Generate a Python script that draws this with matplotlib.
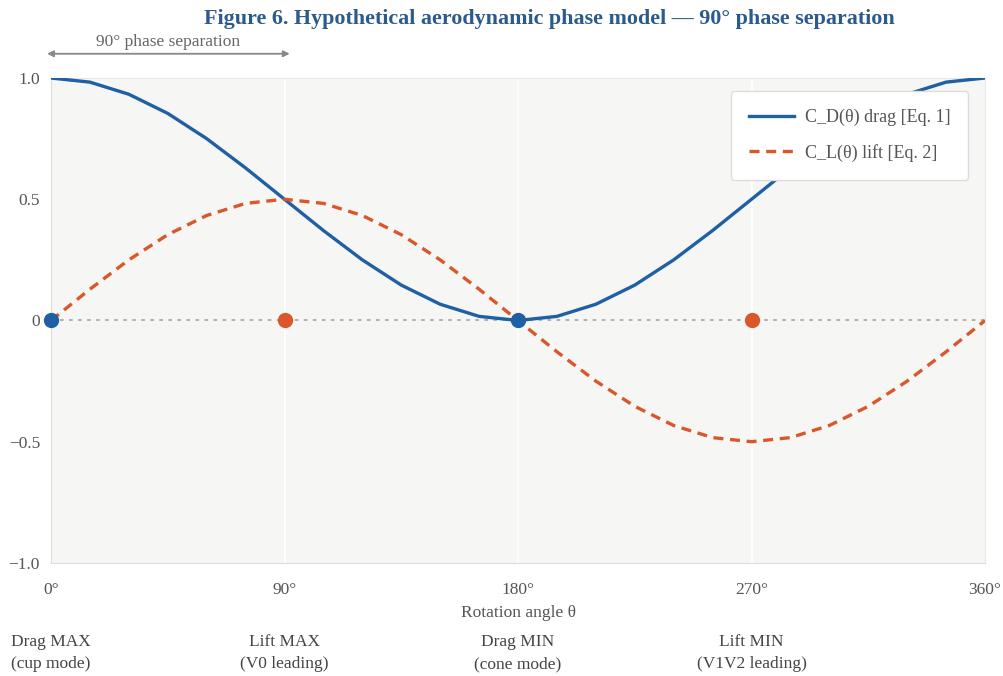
import matplotlib.pyplot as plt
from matplotlib.transforms import blended_transform_factory

plt.rcParams['font.family'] = ['Liberation Serif', 'DejaVu Serif']

# rotation angle samples (deg) and the two coefficient curves
theta = [0, 15, 30, 45, 60, 75, 90, 105, 120, 135, 150, 165, 180,
         195, 210, 225, 240, 255, 270, 285, 300, 315, 330, 345, 360]
drag = [1.0, 0.983, 0.933, 0.854, 0.75, 0.629, 0.5, 0.371, 0.25, 0.146, 0.067, 0.017, 0.0,
        0.017, 0.067, 0.146, 0.25, 0.371, 0.5, 0.629, 0.75, 0.854, 0.933, 0.983, 1.0]
lift = [0.0, 0.129, 0.25, 0.354, 0.433, 0.483, 0.5, 0.483, 0.433, 0.354, 0.25, 0.129, 0.0,
        -0.129, -0.25, -0.354, -0.433, -0.483, -0.5, -0.483, -0.433, -0.354, -0.25, -0.129, 0.0]

# key points on the zero line
drag_pts = [0, 180]
lift_pts = [90, 270]

xticks = [0, 90, 180, 270, 360]
xticklabels = ['0°', '90°', '180°', '270°', '360°']
yticks = [-1.0, -0.5, 0, 0.5, 1.0]
yticklabels = ['−1.0', '−0.5', '0', '0.5', '1.0']
phase_labels = ['Drag MAX\n(cup mode)', 'Lift MAX\n(V0 leading)',
                'Drag MIN\n(cone mode)', 'Lift MIN\n(V1V2 leading)']

blue = '#1f5fa3'
orange = '#d9572b'

fig = plt.figure(figsize=(10.04, 6.76), dpi=100)
ax = fig.add_axes([0.0508, 0.1672, 0.9303, 0.7174])
ax.set_facecolor('#f6f6f5')

ax.axhline(0, color='#aaaaaa', lw=1.3, ls=(0, (2, 3)), zorder=1)
for x in xticks[1:-1]:
    ax.axvline(x, color='white', lw=1.2, zorder=0)

ax.plot(theta, drag, color=blue, lw=2.4, label='C_D(θ) drag [Eq. 1]', zorder=3)
ax.plot(theta, lift, color=orange, lw=2.4, ls=(0, (3, 2)), label='C_L(θ) lift [Eq. 2]', zorder=3)
ax.plot(drag_pts, [0] * len(drag_pts), 'o', color=blue, ms=10, zorder=4, clip_on=False)
ax.plot(lift_pts, [0] * len(lift_pts), 'o', color=orange, ms=10, zorder=4, clip_on=False)

ax.set_xlim(0, 360)
ax.set_ylim(-1.0, 1.0)
ax.set_xticks(xticks)
ax.set_xticklabels(xticklabels)
ax.set_yticks(yticks)
ax.set_yticklabels(yticklabels)
ax.tick_params(length=0, labelsize=12.5, colors='#555555')
ax.tick_params(axis='x', pad=14)
ax.tick_params(axis='y', pad=8)
for side, c in [('left', '#dddddd'), ('bottom', '#dddddd'), ('top', '#e8e8e8'), ('right', '#e8e8e8')]:
    ax.spines[side].set_color(c)

ax.set_xlabel('Rotation angle θ', fontsize=12.5, color='#555555', labelpad=5)

leg = ax.legend(loc='upper right', bbox_to_anchor=(0.982, 0.973), fontsize=13,
                frameon=True, fancybox=True, borderpad=1.0, labelspacing=0.95,
                handlelength=2.5, handletextpad=0.6, labelcolor='#555555',
                borderaxespad=0)
leg.get_frame().set_facecolor('white')
leg.get_frame().set_edgecolor('#dddddd')
leg.get_frame().set_alpha(1)

trans = blended_transform_factory(ax.transData, fig.transFigure)
for x, lab in zip(xticks, phase_labels):
    ax.text(x, 1 - 653 / 676, lab, transform=trans, ha='center', va='center',
            multialignment='center', fontsize=12.5, color='#444444',
            linespacing=1.55, clip_on=False)

# phase separation arrow above the axes
ax.annotate('', xy=(-1.5, 1.1), xytext=(92, 1.1), xycoords='data',
            arrowprops=dict(arrowstyle='<|-|>', color='#888888', lw=1.3,
                            mutation_scale=9, shrinkA=0, shrinkB=0),
            annotation_clip=False)
ax.text(45, 1.15, '90° phase separation', ha='center', va='center',
        fontsize=12.5, color='#666666', clip_on=False)

fig.text(549 / 1004, 1 - 19 / 676, 'Figure 6. Hypothetical aerodynamic phase model — 90° phase separation',
         ha='center', va='center', fontsize=15.8, fontweight='bold', color='#2b5a8c')

fig.savefig('out.png', dpi=100)
